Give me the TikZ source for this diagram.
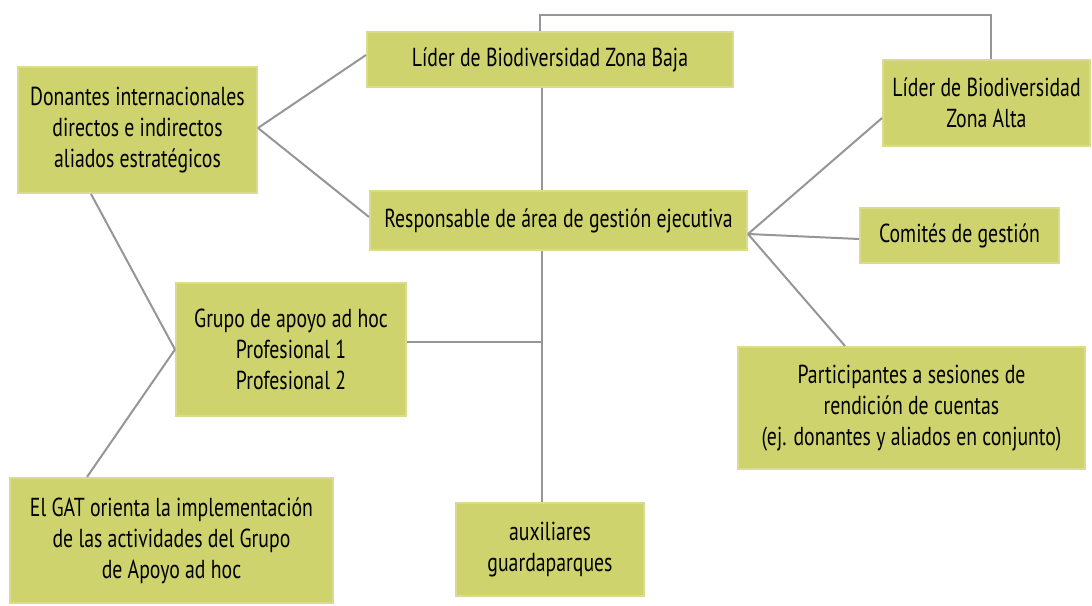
\documentclass[tikz,border=0pt]{standalone}
\usepackage{fontspec}
\setmainfont{PT Sans}[FakeStretch=0.76]
\usetikzlibrary{calc}
\definecolor{boxfill}{RGB}{206,211,110}
\definecolor{boxline}{RGB}{216,220,140}
\definecolor{conn}{RGB}{150,150,152}
\begin{document}
\begin{tikzpicture}[x=1pt,y=-1pt,
  box/.style={draw=boxline,line width=2pt,fill=boxfill,align=center,inner sep=0pt,
    font=\fontsize{26}{31}\selectfont,text=black},
  link/.style={draw=conn,line width=2pt}]
\useasboundingbox (0,0) rectangle (1092,605);
\node[box,minimum width=239pt,minimum height=126pt] (don) at (137.5,130) {Donantes internacionales\\directos e indirectos\\aliados estratégicos};
\node[box,minimum width=366pt,minimum height=55pt] (baja) at (550,59.5) {Líder de Biodiversidad Zona Baja};
\node[box,minimum width=207pt,minimum height=86pt] (alta) at (986.5,103) {Líder de Biodiversidad\\Zona Alta};
\node[box,minimum width=377pt,minimum height=59pt] (resp) at (558.5,220.5) {Responsable de área de gestión ejecutiva};
\node[box,minimum width=199pt,minimum height=55pt] (com) at (959.5,235.5) {Comités de gestión};
\node[box,minimum width=347pt,minimum height=122pt] (part) at (911.5,408) {Participantes a sesiones de\\rendición de cuentas\\(ej. donantes y aliados en conjunto)};
\node[box,minimum width=323pt,minimum height=125pt] (gat) at (171.5,540.5) {El GAT orienta la implementación\\de las actividades del Grupo\\de Apoyo ad hoc};
\node[box,minimum width=188pt,minimum height=93pt] (aux) at (550,549.5) {auxiliares\\guardaparques};
\node[box,minimum width=230pt,minimum height=133pt] (grupo) at (291,349.5) {Grupo de apoyo ad hoc\\Profesional 1\\Profesional 2};
\coordinate (j) at (542,342);
% connectors
\draw[link] ([yshift=2pt]don.east) -- ([yshift=4.5pt]baja.west);
\draw[link] ([yshift=2pt]don.east) -- ([yshift=3.5pt]resp.west);
\draw[link] ([xshift=-8pt]baja.south) -- ([xshift=-16.5pt]resp.north);
\draw[link] ([xshift=-10pt]baja.north) -- ++(0,-16) -| ([xshift=4.5pt]alta.north);
\draw[link] ([yshift=-13.5pt]resp.east) -- ([yshift=-15pt]alta.west);
\draw[link] ([yshift=-13.5pt]resp.east) -- ([yshift=-3.5pt]com.west);
\draw[link] ([yshift=-13.5pt]resp.east) -- ([xshift=-66.5pt]part.north);
\draw[link] ([xshift=-16.5pt]resp.south) -- ([xshift=-8pt]aux.north);
\draw[link] ([yshift=7.5pt]grupo.east) -- (j);
\draw[link] ([xshift=-46.5pt]don.south) -- (grupo.west);
\draw[link] (grupo.west) -- ([xshift=-84.5pt]gat.north);
\end{tikzpicture}
\end{document}
